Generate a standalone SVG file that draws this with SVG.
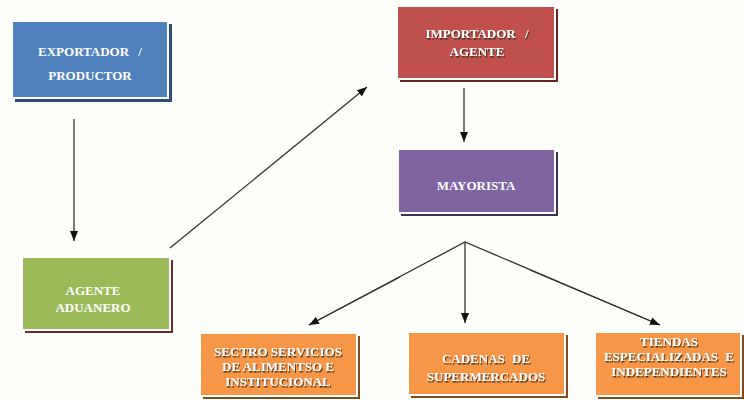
<svg xmlns="http://www.w3.org/2000/svg" width="744" height="400" viewBox="0 0 744 400">
<style>
.t{font-family:"Liberation Serif","Times New Roman",serif;font-weight:bold;font-size:13px;fill:#ffffff;text-anchor:middle}
.sh{filter:url(#ts)}
.box{stroke:#ffffff;stroke-width:2}
.edge{stroke:#333333;stroke-width:1.3;fill:none;marker-end:url(#ah)}
</style>
<defs>
<marker id="ah" markerUnits="userSpaceOnUse" markerWidth="10" markerHeight="10" viewBox="0 0 10 10" refX="10" refY="5" orient="auto">
<path d="M0,1 L10,5 L0,9 Z" fill="#111111"/>
</marker>
<filter id="ts" x="-10%" y="-30%" width="120%" height="160%">
<feDropShadow dx="1" dy="1.5" stdDeviation="0.6" flood-color="#3a2010" flood-opacity="0.9"/>
</filter>
</defs>
<rect width="744" height="400" fill="#FEFEFB"/>
<g id="connectors">
<line class="edge" x1="74" y1="119" x2="74" y2="241"/>
<line class="edge" x1="170" y1="248" x2="367" y2="87"/>
<line class="edge" x1="464" y1="88" x2="464" y2="142"/>
<polyline fill="none" stroke="#333333" stroke-width="1.3" points="309,325 465,242 660,325"/>
<line class="edge" x1="400" y1="277" x2="309" y2="325"/>
<line class="edge" x1="530" y1="270" x2="660" y2="325"/>
<line class="edge" x1="465" y1="242" x2="465" y2="323"/>
</g>
<g id="exportador">
<rect x="15" y="24" width="157" height="78" fill="#2C4D75"/>
<rect class="box" x="12" y="21" width="156" height="77" fill="#4F81BD"/>
<text class="t" x="90" y="56" word-spacing="6">EXPORTADOR /</text>
<text class="t" x="90" y="80">PRODUCTOR</text>
</g>
<g id="importador">
<rect x="400" y="9" width="158" height="73" fill="#6B2422"/>
<rect class="box" x="397" y="6" width="158" height="73" fill="#C0504D"/>
<text class="t sh" x="477" y="38" word-spacing="6">IMPORTADOR /</text>
<text class="t sh" x="477" y="56">AGENTE</text>
</g>
<g id="mayorista">
<rect x="401" y="152" width="157" height="64" fill="#3F3151"/>
<rect class="box" x="398" y="149" width="157" height="64" fill="#8064A2"/>
<text class="t" x="476" y="190">MAYORISTA</text>
</g>
<g id="agente_aduanero">
<rect x="25" y="260" width="148" height="73" fill="#6B2A2E"/>
<rect class="box" x="22" y="257" width="148" height="73" fill="#9BBB59"/>
<text class="t" x="93" y="294.5">AGENTE</text>
<text class="t" x="93" y="312">ADUANERO</text>
</g>
<g id="servicios_alimentos">
<rect x="203" y="336" width="157" height="63" fill="#7F4B1E"/>
<rect class="box" x="200" y="333" width="157" height="63" fill="#F79646"/>
<text class="t sh" x="278" y="356">SECTRO SERVICIOS</text>
<text class="t sh" x="278" y="371">DE ALIMENTSO E</text>
<text class="t sh" x="278" y="386">INSTITUCIONAL</text>
</g>
<g id="cadenas">
<rect x="411" y="335" width="157" height="63" fill="#7F4B1E"/>
<rect class="box" x="408" y="332" width="157" height="63" fill="#F79646"/>
<text class="t sh" x="486" y="363" word-spacing="4">CADENAS DE</text>
<text class="t sh" x="486" y="381">SUPERMERCADOS</text>
</g>
<g id="tiendas">
<rect x="598" y="335" width="146" height="64" fill="#7F4B1E"/>
<rect class="box" x="595" y="332" width="146" height="64" fill="#F79646"/>
<text class="t sh" x="669" y="346">TIENDAS</text>
<text class="t sh" x="669" y="361" word-spacing="4">ESPECIALIZADAS E</text>
<text class="t sh" x="669" y="376">INDEPENDIENTES</text>
</g>
</svg>
